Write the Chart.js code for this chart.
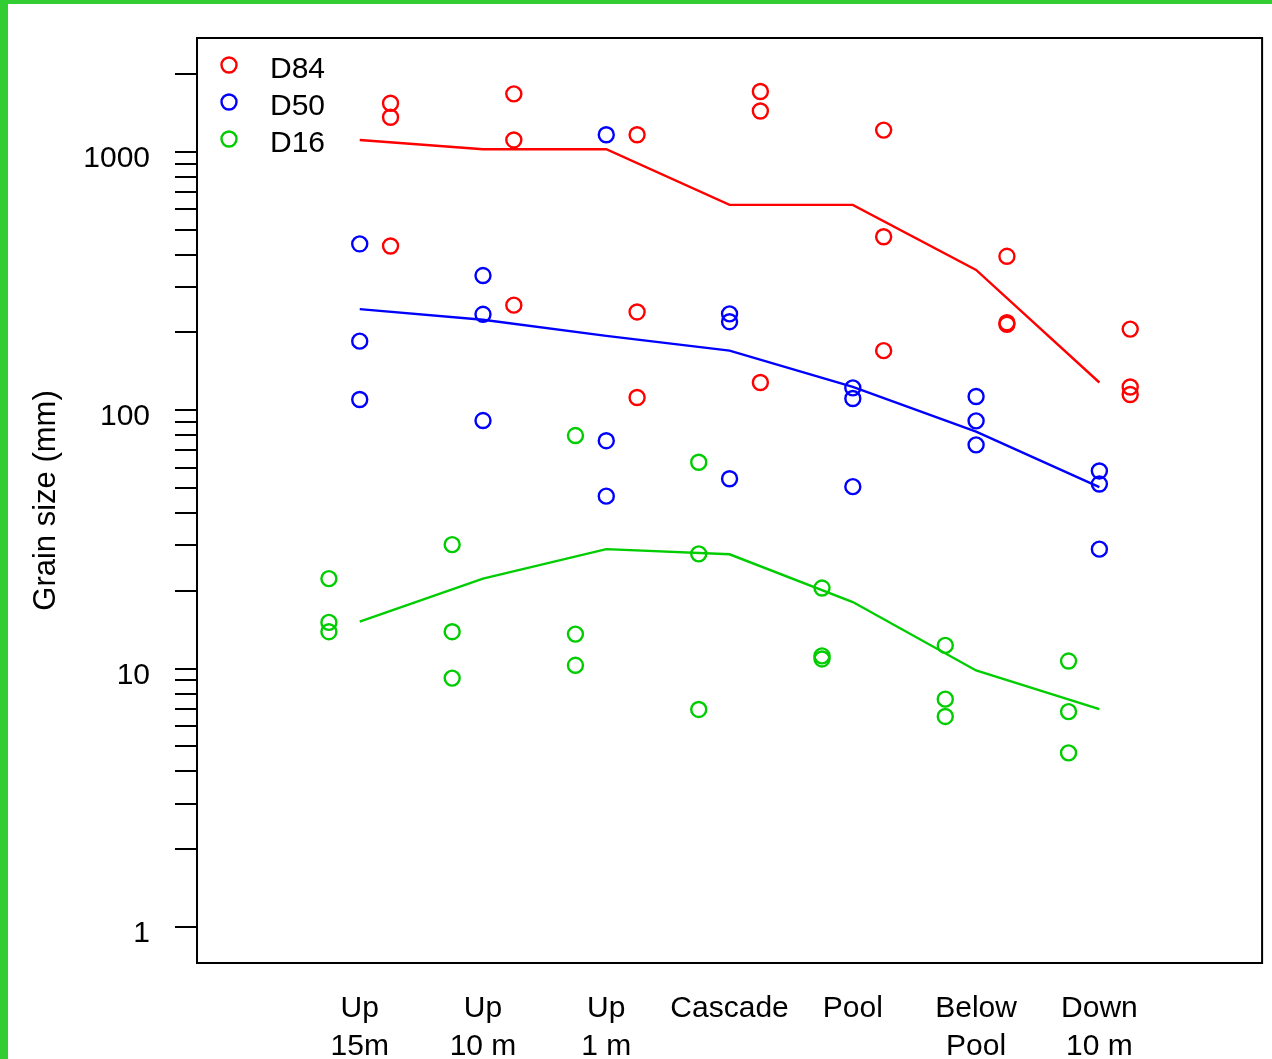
<!DOCTYPE html>
<html>
<head>
<meta charset="utf-8">
<script src="https://cdn.jsdelivr.net/npm/chart.js@4/dist/chart.umd.min.js"></script>
<style>
  html, body { margin: 0; padding: 0; background: #fff; }
  #frame {
    width: 1272px; height: 1059px; box-sizing: border-box;
    border-left: 8px solid #32cd32; border-top: 4px solid #32cd32;
  }
  canvas { display: block; }
</style>
</head>
<body>
<div id="frame"><canvas id="grain" width="1264" height="1055"></canvas></div>
<script>
// sites along the stream
const sites = [["Up", "15m"], ["Up", "10 m"], ["Up", "1 m"], ["Cascade"], ["Pool"], ["Below", "Pool"], ["Down", "10 m"]];

// three samples per site (mm)
const d84 = [[1541, 1360, 432], [1675, 1111, 255], [1164, 240, 112], [1711, 1438, 128],
             [1213, 469, 170], [394, 218, 215], [206, 123, 115]];
const d50 = [[440, 185, 110], [332, 235, 91.2], [1164, 76.2, 46.5], [236, 220, 54.3],
             [122, 111, 50.6], [113, 90.9, 73.4], [58.2, 51.8, 29.0]];
const d16 = [[22.3, 15.1, 13.9], [30.2, 13.9, 9.19], [79.8, 13.6, 10.3], [62.9, 27.8, 6.95],
             [20.5, 11.2, 10.9], [12.3, 7.62, 6.53], [10.7, 6.82, 4.72]];

// trend lines
const d84Line = [1111, 1023, 1023, 623, 623, 349, 128];
const d50Line = [246, 224, 194, 170, 123, 82.6, 50.4];
const d16Line = [15.2, 22.3, 29.0, 27.7, 18.1, 9.84, 6.97];

const yLabelled = [1, 10, 100, 1000];
const yTicks = [1, 2, 3, 4, 5, 6, 7, 8, 9, 10, 20, 30, 40, 50, 60, 70, 80, 90,
                100, 200, 300, 400, 500, 600, 700, 800, 900, 1000, 2000];

const RED = "#ff0000", BLUE = "#0000ff", GREEN = "#00cd00";

function pts(rows, shift) {
  const out = [];
  rows.forEach((vals, i) => vals.forEach(v => out.push({x: i + 1 + shift, y: v})));
  return out;
}
function linePts(vals) {
  return vals.map((v, i) => ({x: i + 1, y: v}));
}
function pointSet(label, data, color) {
  return {label, data, borderColor: color, backgroundColor: "transparent",
    pointRadius: 7.5, pointBorderWidth: 2.4, pointHoverRadius: 7.5, showLine: false};
}
function lineSet(data, color) {
  return {label: "", data, borderColor: color, borderWidth: 2.4, pointRadius: 0,
    showLine: true, fill: false, tension: 0};
}

Chart.defaults.font.family = "'Liberation Sans', Arial, sans-serif";
Chart.defaults.color = "#000";

const boxAndLegend = {
  id: "boxAndLegend",
  afterDraw(chart) {
    const {ctx, chartArea: a} = chart;
    ctx.save();
    ctx.strokeStyle = "#000";
    ctx.lineWidth = 2;
    ctx.strokeRect(a.left, a.top, a.right - a.left, a.bottom - a.top);
    ctx.font = "30px 'Liberation Sans', Arial, sans-serif";
    ctx.textBaseline = "middle";
    ctx.fillStyle = "#000";
    ctx.lineWidth = 2.4;
    chart.data.datasets.slice(0, 3).forEach((ds, i) => {
      const cy = a.top + 27 + i * 37;
      ctx.beginPath();
      ctx.arc(a.left + 32, cy, 7.5, 0, Math.PI * 2);
      ctx.strokeStyle = ds.borderColor;
      ctx.stroke();
      ctx.fillText(ds.label, a.left + 73, cy + 5);
    });
    ctx.restore();
  }
};

new Chart(document.getElementById("grain"), {
  type: "scatter",
  data: {
    datasets: [
      pointSet("D84", pts(d84, 0.25), RED),
      pointSet("D50", pts(d50, 0), BLUE),
      pointSet("D16", pts(d16, -0.25), GREEN),
      lineSet(linePts(d84Line), RED),
      lineSet(linePts(d50Line), BLUE),
      lineSet(linePts(d16Line), GREEN)
    ]
  },
  options: {
    responsive: false,
    animation: false,
    devicePixelRatio: 1,
    layout: {padding: {top: 34, right: 9, left: 0, bottom: 0}},
    plugins: {legend: {display: false}, tooltip: {enabled: false}},
    scales: {
      x: {
        type: "linear", min: -0.32, max: 8.32, bounds: "data",
        afterBuildTicks: s => { s.ticks = sites.map((_, i) => ({value: i + 1})); },
        afterFit: s => { s.height = 96; s.paddingLeft = 0; s.paddingRight = 0; },
        grid: {display: false, drawTicks: false},
        border: {display: false},
        ticks: {
          autoSkip: false, maxRotation: 0, padding: 27,
          font: {size: 30, lineHeight: 1.25},
          callback: v => sites[v - 1]
        }
      },
      y: {
        type: "logarithmic", min: 0.726, max: 2756, bounds: "data",
        afterBuildTicks: s => { s.ticks = yTicks.map(v => ({value: v})); },
        afterFit: s => { s.width = 189; s.paddingTop = 0; s.paddingBottom = 0; },
        grid: {drawOnChartArea: false, drawTicks: true, tickLength: 22, color: "#000", lineWidth: 2},
        border: {display: false},
        ticks: {
          autoSkip: false, padding: 25, labelOffset: 7,
          font: {size: 30},
          callback: v => yLabelled.includes(v) ? String(v) : ""
        },
        title: {display: true, text: "Grain size (mm)", font: {size: 31}, padding: {top: 20, bottom: 0}}
      }
    }
  },
  plugins: [boxAndLegend]
});
</script>
</body>
</html>
